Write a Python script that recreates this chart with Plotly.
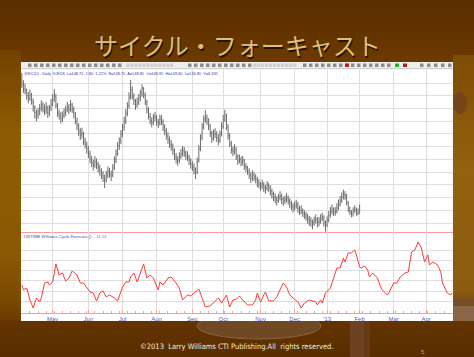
import plotly.graph_objects as go

# ---------------- data ----------------
month_labels = ["May", "Jun", "Jul", "Aug", "Sep", "Oct", "Nov", "Dec", "'13", "Feb", "Mar", "Apr"]
month_pos = [19, 41, 62, 83, 105, 124, 147, 168, 188, 208, 229, 249]
n_days = 266

price_grid = [144, 148, 152, 156, 160, 164, 168, 172, 176, 180, 184, 188]
cycle_grid = [-20, -10, 0, 10, 20, 30]

bar_open = [
    189.0, 187.8, 186.2, 185.4, 184.0, 183.1, 184.3, 182.0, 180.1, 178.5,
    177.9, 179.0, 180.2, 181.2, 179.8, 179.5, 180.2, 178.9, 180.1, 181.6,
    183.0, 183.8, 180.6, 178.4, 177.5, 176.9, 177.8, 178.9, 179.6, 180.3,
    179.9, 181.0, 179.7, 178.2, 176.0, 174.3, 172.6, 171.8, 171.9, 169.6,
    168.5, 167.0, 165.6, 164.0, 162.8, 162.3, 163.2, 162.4, 161.2, 160.3,
    159.1, 158.2, 157.6, 159.2, 160.1, 159.4, 159.0, 161.5, 163.9, 166.0,
    168.4, 169.9, 172.2, 174.1, 176.2, 178.7, 180.9, 183.8, 185.6, 183.7,
    182.1, 181.1, 182.0, 183.4, 184.9, 186.0, 184.2, 182.0, 179.3, 177.5,
    176.0, 175.7, 177.1, 177.2, 175.6, 175.5, 176.6, 175.8, 174.1, 172.7,
    171.3, 170.0, 168.7, 168.1, 166.6, 164.9, 163.8, 163.7, 165.0, 165.8,
    166.6, 165.9, 165.1, 164.6, 163.5, 162.3, 161.6, 160.7, 160.2, 163.8,
    167.5, 170.9, 174.4, 176.8, 177.0, 175.7, 174.3, 172.1, 170.8, 172.0,
    171.7, 170.6, 170.0, 172.0, 174.5, 176.9, 177.5, 174.0, 171.2, 168.7,
    167.0, 166.7, 167.0, 164.7, 163.8, 163.9, 163.2, 163.4, 161.8, 161.1,
    160.3, 159.0, 158.2, 159.1, 158.4, 157.6, 156.5, 156.0, 155.7, 156.1,
    154.9, 155.0, 155.7, 155.0, 153.9, 153.0, 152.2, 151.6, 151.2, 152.1,
    152.3, 151.4, 151.1, 151.5, 151.8, 150.9, 150.0, 149.3, 149.0, 149.6,
    149.7, 148.4, 148.1, 147.7, 147.1, 146.6, 146.0, 145.3, 144.7, 144.3,
    144.1, 144.8, 145.0, 144.3, 144.6, 145.5, 145.6, 144.0, 143.4, 145.0,
    146.6, 147.7, 148.1, 147.4, 147.8, 148.9, 150.0, 151.1, 152.2, 152.9,
    152.4, 150.1, 148.0, 147.2, 146.9, 148.0, 148.1, 147.2, 148.95,
]
bar_high = [
    191.2, 188.9, 187.8, 186.3, 185.2, 185.9, 184.9, 183.1, 181.0, 179.6,
    180.2, 181.4, 182.6, 182.0, 181.3, 182.0, 180.9, 181.1, 183.0, 184.5,
    186.1, 184.6, 181.7, 179.6, 178.8, 179.1, 180.0, 180.8, 182.1, 181.4,
    182.7, 181.8, 180.6, 178.9, 177.1, 175.4, 173.8, 174.0, 172.7, 170.8,
    169.6, 168.2, 166.7, 165.1, 163.9, 165.0, 164.3, 163.2, 162.3, 161.2,
    160.3, 159.2, 160.4, 161.8, 161.3, 160.5, 162.5, 164.9, 167.1, 169.4,
    170.9, 173.2, 175.1, 177.4, 179.8, 182.0, 185.1, 189.0, 186.9, 184.8,
    183.0, 183.4, 184.6, 185.9, 187.6, 186.8, 185.0, 182.8, 180.4, 178.6,
    177.2, 178.3, 178.9, 178.0, 176.7, 178.1, 177.9, 176.6, 175.0, 173.9,
    172.5, 171.2, 170.1, 169.0, 167.5, 166.0, 165.0, 166.2, 167.3, 168.2,
    167.9, 166.8, 166.6, 165.5, 164.4, 163.5, 162.7, 161.5, 164.6, 168.5,
    171.9, 175.4, 177.8, 179.5, 178.1, 176.9, 175.2, 173.0, 173.4, 173.8,
    172.8, 171.9, 173.1, 175.6, 178.0, 179.6, 178.4, 175.1, 172.3, 169.8,
    168.1, 168.8, 167.9, 165.6, 165.5, 164.8, 165.1, 164.2, 162.8, 162.0,
    161.2, 159.9, 160.6, 160.0, 159.3, 158.5, 157.8, 156.9, 157.6, 156.9,
    156.0, 157.2, 156.6, 155.9, 154.8, 153.9, 153.3, 152.4, 153.1, 154.0,
    153.2, 152.3, 152.6, 153.4, 152.7, 151.8, 151.0, 150.2, 150.8, 151.3,
    150.6, 149.3, 149.6, 148.6, 148.0, 147.5, 146.9, 146.2, 145.8, 145.1,
    146.0, 146.7, 145.8, 145.9, 146.8, 147.2, 146.4, 144.8, 146.1, 147.8,
    149.0, 149.8, 148.9, 149.0, 150.2, 151.4, 152.5, 153.6, 154.5, 154.0,
    153.2, 150.9, 149.2, 148.1, 148.9, 149.6, 148.9, 148.6, 149.8,
]
bar_low = [
    186.5, 184.9, 184.5, 182.8, 181.6, 182.4, 181.2, 179.0, 176.9, 176.0,
    176.8, 177.9, 179.1, 178.7, 177.9, 178.3, 177.0, 177.6, 179.2, 180.7,
    182.0, 180.1, 177.4, 176.5, 175.3, 175.8, 176.9, 177.6, 178.8, 178.2,
    179.0, 178.6, 176.9, 175.0, 173.2, 171.4, 170.1, 170.6, 168.5, 167.4,
    165.8, 164.4, 162.8, 161.6, 160.5, 161.4, 161.0, 159.9, 158.9, 157.8,
    156.9, 155.0, 156.8, 158.1, 158.3, 157.2, 158.4, 160.7, 162.8, 165.1,
    167.0, 168.8, 171.0, 173.0, 175.1, 177.6, 180.0, 182.9, 182.8, 181.1,
    179.6, 180.2, 181.1, 182.3, 183.7, 183.2, 181.1, 178.5, 176.6, 175.0,
    174.1, 174.8, 175.9, 174.6, 173.9, 174.6, 174.8, 172.9, 171.6, 170.2,
    168.9, 167.6, 166.8, 165.4, 163.8, 162.7, 162.0, 162.8, 164.1, 164.9,
    164.8, 163.9, 163.5, 162.2, 161.1, 160.4, 159.3, 157.8, 159.4, 163.0,
    166.6, 170.0, 173.4, 175.6, 174.8, 173.2, 171.0, 169.2, 169.9, 170.7,
    169.5, 168.4, 169.2, 171.2, 173.6, 175.8, 173.2, 170.2, 167.9, 165.8,
    165.0, 165.6, 163.8, 162.3, 162.7, 161.8, 162.1, 160.7, 160.0, 159.1,
    157.9, 156.6, 157.3, 157.2, 156.5, 155.3, 154.9, 154.0, 154.6, 153.7,
    153.2, 154.1, 153.8, 152.6, 151.7, 150.9, 150.2, 149.5, 150.4, 151.1,
    150.0, 149.4, 149.9, 150.5, 149.7, 148.7, 148.1, 147.3, 147.9, 148.5,
    147.2, 146.5, 146.8, 145.9, 145.3, 144.7, 143.8, 143.2, 142.8, 142.0,
    143.1, 143.9, 142.6, 143.0, 143.8, 144.6, 142.9, 141.3, 142.7, 144.2,
    145.7, 146.7, 146.2, 146.3, 147.0, 148.0, 149.2, 150.3, 151.4, 151.3,
    149.5, 147.4, 146.5, 145.8, 146.0, 147.2, 146.3, 146.4, 146.9,
]
bar_close = [
    187.5, 186.0, 185.6, 184.2, 183.0, 184.1, 182.5, 180.4, 178.8, 177.6,
    178.9, 179.8, 181.0, 180.1, 179.2, 180.5, 178.6, 179.9, 181.3, 182.8,
    184.2, 181.0, 178.7, 177.9, 176.8, 177.5, 178.6, 179.4, 180.5, 179.7,
    181.2, 180.0, 178.5, 176.3, 174.6, 172.9, 171.5, 172.2, 169.9, 168.8,
    167.3, 165.9, 164.2, 163.0, 162.1, 163.4, 162.7, 161.5, 160.6, 159.4,
    158.5, 157.4, 158.9, 160.3, 159.7, 158.8, 161.2, 163.6, 165.8, 168.1,
    169.6, 171.9, 173.8, 175.9, 178.4, 180.6, 183.5, 185.9, 184.0, 182.4,
    180.9, 181.8, 183.2, 184.6, 186.3, 184.5, 182.3, 179.6, 177.8, 176.2,
    175.5, 176.9, 177.4, 175.9, 175.3, 176.8, 176.1, 174.4, 173.0, 171.6,
    170.3, 169.0, 168.4, 166.9, 165.2, 164.1, 163.5, 164.8, 165.6, 166.8,
    166.1, 165.3, 164.9, 163.8, 162.6, 161.9, 161.0, 159.8, 163.5, 167.2,
    170.6, 174.1, 176.5, 177.3, 176.0, 174.6, 172.4, 170.5, 171.8, 172.0,
    170.9, 169.8, 171.7, 174.2, 176.6, 177.9, 174.3, 171.5, 169.0, 167.2,
    166.5, 167.3, 165.0, 163.6, 164.1, 163.0, 163.7, 162.0, 161.4, 160.5,
    159.2, 158.0, 159.3, 158.6, 157.8, 156.7, 156.2, 155.5, 156.4, 155.1,
    154.8, 155.9, 155.2, 154.1, 153.2, 152.4, 151.8, 151.0, 151.9, 152.5,
    151.6, 150.9, 151.3, 152.0, 151.1, 150.2, 149.5, 148.8, 149.4, 149.9,
    148.6, 148.0, 147.9, 147.3, 146.8, 146.2, 145.5, 144.9, 144.5, 143.9,
    144.6, 145.2, 144.1, 144.4, 145.3, 145.8, 144.2, 143.2, 144.8, 146.4,
    147.5, 148.3, 147.2, 147.6, 148.7, 149.8, 150.9, 152.0, 153.1, 152.6,
    150.3, 148.2, 147.4, 146.7, 147.8, 148.3, 147.0, 146.95, 148.75,
]

forecast_day = [
    0, 1, 3, 5, 7, 9, 11, 12, 14, 16, 17, 19, 21, 23, 25, 27, 29, 31, 34, 36,
    38, 40, 42, 44, 46, 48, 50, 52, 54, 57, 59, 62, 64, 66, 67, 69, 71, 73, 75, 77,
    79, 81, 84, 85, 87, 90, 92, 95, 97, 99, 102, 104, 107, 109, 111, 113, 116, 119, 121, 123,
    126, 128, 130, 132, 134, 136, 139, 142, 144, 145, 147, 149, 150, 152, 155, 157, 159, 161, 163, 165,
    167, 170, 172, 174, 177, 181, 182, 184, 185, 187, 190, 192, 194, 196, 198, 199, 201, 203, 205, 206,
    208, 209, 211, 213, 214, 216, 219, 221, 222, 225, 226, 229, 231, 233, 236, 238, 240, 242, 244, 246,
    248, 250, 251, 253, 256, 258, 259, 262, 264, 265,
]
forecast_val = [
    -3.9, -8.8, -6.9, -18.6, -26.5, -16.7, -20.6, -16.7, -2.0, -1.0, -3.9, -1.0, 16.7, 5.9, 7.8, 0.0, 2.9, 9.8, 5.9, -2.0,
    -2.0, -6.9, -10.8, -11.8, -19.6, -11.8, -9.8, -15.7, -13.7, -16.7, -19.6, -5.9, -1.0, -1.0, 3.9, 7.8, -1.0, 7.8, 16.7, 2.9,
    5.9, 2.9, -8.8, -1.0, -3.9, 2.9, 3.9, -2.0, -6.9, -18.6, -13.7, -14.7, -10.8, -7.8, -16.7, -25.5, -24.5, -19.6, -16.7, -21.6,
    -13.7, -25.5, -18.6, -18.0, -14.7, -18.6, -23.5, -23.5, -18.6, -11.8, -20.6, -13.7, -10.8, -19.6, -19.6, -15.7, -8.8, -2.0, -5.9, -13.7,
    -16.7, -20.6, -26.5, -21.6, -18.6, -20.6, -23.5, -18.6, -21.6, -11.8, -6.9, 2.0, 12.7, 12.7, 22.5, 18.6, 27.5, 27.5, 30.4, 25.5,
    13.7, 12.7, 14.7, 10.8, 3.9, 7.8, 2.9, -5.9, -8.8, -13.7, -11.8, -2.0, -2.0, 3.9, 7.8, 8.8, 28.4, 30.4, 38.2, 32.4,
    18.6, 25.5, 15.7, 18.6, 15.7, 8.8, -2.0, -11.8, -13.7, -11.51,
]

title_text = "サイクル・フォーキャスト"
header_text = ("@KC(D) - Daily  ICEUS  L=148.75  1.80  1.22%  B=148.75  A=148.85  "
               "O=148.95  H=149.80  L=146.90  V=6,332")
indicator_name = "LWTIME Williams Cycle Forecast ()"
indicator_last = "-11.51"
copyright_text = "©2013  Larry Williams CTI Publishing.All  rights reserved."
page_no = "5"

# ---------------- geometry helpers ----------------
W, H = 474, 357
PL, PR, PT, PB = 21, 453, 70, 313
SPLIT = 232


def fx(x):
    return (x - PL) / (PR - PL)


def fy(y):
    return (PB - y) / (PB - PT)


def hex_rgb(h):
    h = h.lstrip("#")
    return tuple(int(h[i:i + 2], 16) for i in (0, 2, 4))


def grad(keys, y):
    for (y0, c0), (y1, c1) in zip(keys[:-1], keys[1:]):
        if y0 <= y <= y1:
            t = (y - y0) / (y1 - y0) if y1 > y0 else 0
            a, b = hex_rgb(c0), hex_rgb(c1)
            r = [round(a[i] + (b[i] - a[i]) * t) for i in range(3)]
            return "rgb(%d,%d,%d)" % tuple(r)
    return keys[-1][1] if y > keys[-1][0] else keys[0][1]


shapes = []


def rect(x0, y0, x1, y1, color, line_color=None, lw=0, kind="rect"):
    shapes.append(dict(
        type=kind, xref="paper", yref="paper", layer="below",
        x0=fx(x0), x1=fx(x1), y0=fy(y1), y1=fy(y0),
        fillcolor=color, line=dict(width=lw, color=line_color or color),
    ))


def hline(x0, x1, y, color, lw=1):
    shapes.append(dict(type="line", xref="paper", yref="paper", layer="below",
                       x0=fx(x0), x1=fx(x1), y0=fy(y), y1=fy(y),
                       line=dict(width=lw, color=color)))


# ---------------- background (slide) ----------------
top_keys = [(0, "#5a2e00"), (30, "#623300"), (62, "#6d3b00")]
for y in range(0, 62, 2):
    rect(0, y, W, y + 3, grad(top_keys, y))
mid_keys = [(62, "#6d3b00"), (321, "#643500")]
for y in range(62, 321, 4):
    rect(0, y, W, y + 5, grad(mid_keys, y))
left_keys = [(50, "#744200"), (130, "#8c5b03"), (250, "#8a5903"), (300, "#7a4a00"), (325, "#643500")]
for y in range(50, 325, 3):
    rect(0, y, PL, y + 4, grad(left_keys, y))
right_keys = [(55, "#7e4c04"), (170, "#93620f"), (290, "#8b5b0f"), (300, "#7a4c1a")]
for y in range(55, 300, 3):
    rect(PR, y, W, y + 4, grad(right_keys, y))
bot_keys = [(321, "#633400"), (357, "#592d00")]
for y in range(321, 357, 2):
    rect(0, y, W, y + 3, grad(bot_keys, y))

# decorative objects of the slide picture
rect(453, 92, 467, 114, "#74451a", kind="circle")
rect(453, 298, W, 307, "#7a4e25")
rect(453, 306, W, 321, "#8a664a")
rect(197, 313, 321, 339, "#6f4824", "#8a6440", 1, kind="circle")
rect(350, 321, 364, 357, "#6c4220")
rect(364, 321, 370, 357, "#653b18")

# ---------------- chart panel ----------------
rect(PL, 62, PR, 321, "#ffffff")
rect(PL, 62, PR, 68.5, "#eeeeee")
hline(PL, PR, 68.7, "#c4c4c4", 1)

icon_groups = [
    (28, 122, 6, "#8c8c8c"), (126, 172, 4, "#d2d2d2"), (188, 250, 6, "#8c8c8c"),
    (253, 294, 4, "#d2d2d2"), (303, 392, 6, "#8c8c8c"), (420, 452, 7, "#8c8c8c"),
]
for a, b, step, col in icon_groups:
    x = a
    while x < b:
        rect(x, 63.5, x + 3.5, 67, col)
        x += step
rect(395, 63.5, 399, 67, "#22b322")
rect(403, 63.5, 407, 67, "#aa1f1f")
rect(345, 63.5, 349, 67, "#b22222")

# ---------------- traces ----------------
fig = go.Figure()
fig.add_trace(go.Ohlc(
    x=list(range(len(bar_close))), open=bar_open, high=bar_high, low=bar_low, close=bar_close,
    increasing=dict(line=dict(color="#6a6a6a", width=1)),
    decreasing=dict(line=dict(color="#6a6a6a", width=1)),
    tickwidth=0.35, xaxis="x", yaxis="y", showlegend=False, hoverinfo="skip",
))
fig.add_trace(go.Scatter(
    x=forecast_day, y=forecast_val, mode="lines",
    line=dict(color="#ff3b3b", width=1), xaxis="x2", yaxis="y2",
    showlegend=False, hoverinfo="skip",
))

grid_col = "#dedede"
axis_red = "#ff9a9a"
xr = [-0.5, n_days - 0.5]
split_frac = fy(SPLIT)

fig.update_layout(
    width=W, height=H,
    margin=dict(l=PL, r=W - PR, t=PT, b=H - PB, pad=0),
    paper_bgcolor="#603300", plot_bgcolor="#ffffff",
    font=dict(family="Liberation Sans, Arial, sans-serif"),
    shapes=shapes,
    xaxis=dict(domain=[0, 1], range=xr, anchor="y", tickvals=month_pos, showticklabels=False,
               showgrid=True, gridcolor=grid_col, gridwidth=1, ticks="", zeroline=False,
               showline=True, linecolor=axis_red, linewidth=1, rangeslider=dict(visible=False),
               fixedrange=True),
    yaxis=dict(domain=[split_frac, 1], range=[141.17, 192.11], anchor="x", tickvals=price_grid,
               showticklabels=False, showgrid=True, gridcolor=grid_col, gridwidth=1,
               zeroline=False, showline=False, ticks="", fixedrange=True),
    xaxis2=dict(domain=[0, 1], range=xr, anchor="y2", tickvals=month_pos, ticktext=month_labels,
                tickfont=dict(size=6, color="#5a5aae"), showgrid=True, gridcolor=grid_col,
                gridwidth=1, zeroline=False, showline=True, linecolor=axis_red, linewidth=1,
                ticks="inside", ticklen=3, tickcolor=axis_red, tickwidth=1,
                minor=dict(dtick=5, tick0=0, ticks="inside", ticklen=2, tickcolor=axis_red, showgrid=False),
                fixedrange=True),
    yaxis2=dict(domain=[0, split_frac], range=[-31.4, 48], anchor="x2", tickvals=cycle_grid,
                showticklabels=False, showgrid=True, gridcolor=grid_col, gridwidth=1,
                zeroline=False, showline=False, ticks="", fixedrange=True),
)

ann = []
title_font = "Noto Sans CJK JP, sans-serif"
ann.append(dict(text=title_text, x=fx(238.5), y=fy(46.5), xref="paper", yref="paper",
                showarrow=False, xanchor="center", yanchor="middle",
                font=dict(size=24, color="#2a1400", family=title_font)))
ann.append(dict(text=title_text, x=fx(237), y=fy(45), xref="paper", yref="paper",
                showarrow=False, xanchor="center", yanchor="middle",
                font=dict(size=24, color="#dcbf7c", family=title_font)))
ann.append(dict(text=header_text, x=fx(22), y=fy(73.5), xref="paper", yref="paper",
                showarrow=False, xanchor="left", yanchor="middle",
                font=dict(size=3.9, color="#3c3ca6")))
ann.append(dict(text=indicator_name + "   <span style='color:#ff3b3b'>" + indicator_last + "</span>",
                x=fx(22), y=fy(236.5), xref="paper", yref="paper",
                showarrow=False, xanchor="left", yanchor="middle",
                font=dict(size=4.3, color="#4a4aa8")))
ann.append(dict(text=copyright_text, x=fx(236.5), y=fy(346.5), xref="paper", yref="paper",
                showarrow=False, xanchor="center", yanchor="middle",
                font=dict(size=7.5, color="#f4ecd8", family="DejaVu Sans Condensed, Liberation Sans, sans-serif")))
ann.append(dict(text=page_no, x=fx(423), y=fy(352), xref="paper", yref="paper",
                showarrow=False, xanchor="center", yanchor="middle",
                font=dict(size=6, color="#c9a25c")))
fig.update_layout(annotations=ann)

fig.write_html("out.html", config={"displayModeBar": False, "staticPlot": True},
               post_script="document.body.style.margin='0';document.body.style.overflow='hidden';")
